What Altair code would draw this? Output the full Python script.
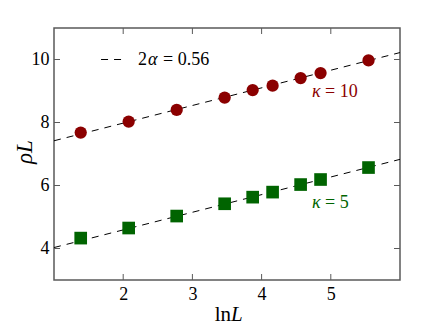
import altair as alt
import pandas as pd

# ---- data ----
lnL = [1.386, 2.079, 2.773, 3.466, 3.871, 4.159, 4.564, 4.852, 5.545]
rho_k10 = [7.68, 8.03, 8.40, 8.79, 9.03, 9.17, 9.41, 9.57, 9.97]
rho_k5 = [4.33, 4.65, 5.03, 5.42, 5.63, 5.79, 6.03, 6.19, 6.57]

fit_x = [1.0, 6.0]
fit_k10 = [7.42, 10.22]
fit_k5 = [4.03, 6.83]

x_ticks = [2, 3, 4, 5]
y_ticks = [4, 6, 8, 10]

legend_x = [1.68, 2.01]
legend_y = [10.0, 10.0]

W, H = 346, 252
FONT = "Liberation Serif, Times New Roman, DejaVu Serif, serif"
RED = "#8b0000"
GREEN = "#006400"
FRAME = "#5a5a5a"

xs = alt.Scale(domain=[1, 6], nice=False, zero=False)
ys = alt.Scale(domain=[3, 11], nice=False, zero=False)

xaxis = alt.Axis(values=x_ticks, title=None, ticks=False, domain=False, grid=False,
                 labelPadding=5, labelFont=FONT, labelFontSize=18, labelColor="black")
yaxis = alt.Axis(values=y_ticks, title=None, ticks=False, domain=False, grid=False,
                 labelPadding=5, labelFont=FONT, labelFontSize=18, labelColor="black")

X = lambda f="x": alt.X(f"{f}:Q", scale=xs, axis=xaxis)
Y = lambda f="y": alt.Y(f"{f}:Q", scale=ys, axis=yaxis)

df10 = pd.DataFrame({"x": lnL, "y": rho_k10})
df5 = pd.DataFrame({"x": lnL, "y": rho_k5})

fit10 = pd.DataFrame({"x": fit_x, "y": fit_k10})
fit5 = pd.DataFrame({"x": fit_x, "y": fit_k5})
legdf = pd.DataFrame({"x": legend_x, "y": legend_y})

dash = [7, 6]
line10 = alt.Chart(fit10).mark_line(color="black", strokeWidth=1, strokeDash=dash, clip=True).encode(x=X(), y=Y())
line5 = alt.Chart(fit5).mark_line(color="black", strokeWidth=1, strokeDash=dash, clip=True).encode(x=X(), y=Y())
legline = alt.Chart(legdf).mark_line(color="black", strokeWidth=1, strokeDash=dash).encode(x=X(), y=Y())

pts10 = alt.Chart(df10).mark_circle(size=150, color=RED, opacity=1).encode(x=X(), y=Y())
pts5 = alt.Chart(df5).mark_square(size=160, color=GREEN, opacity=1).encode(x=X(), y=Y())

# inward ticks on all four sides
xt = pd.DataFrame({"x": x_ticks})
yt = pd.DataFrame({"y": y_ticks})
tick_style = dict(color=FRAME, strokeWidth=1)
tb = alt.Chart(xt).mark_rule(**tick_style).encode(x=X(), y=alt.value(H), y2=alt.value(H - 6))
tt = alt.Chart(xt).mark_rule(**tick_style).encode(x=X(), y=alt.value(0), y2=alt.value(6))
tl = alt.Chart(yt).mark_rule(**tick_style).encode(y=Y(), x=alt.value(0), x2=alt.value(6))
tr = alt.Chart(yt).mark_rule(**tick_style).encode(y=Y(), x=alt.value(W), x2=alt.value(W - 6))


def label(text, x, y, color="black", italic=False, dx=0, size=18):
    d = pd.DataFrame({"x": [x], "y": [y], "t": [text]})
    return alt.Chart(d).mark_text(
        font=FONT, fontSize=size, color=color, align="left", baseline="middle",
        fontStyle="italic" if italic else "normal", dx=dx,
    ).encode(x=X(), y=Y(), text="t:N")


ann = [
    label("2", 2.214, 10.0),
    label("α", 2.214, 10.0, italic=True, dx=10),
    label("= 0.56", 2.214, 10.0, dx=25),
    label("κ", 4.73, 8.97, color=RED, italic=True),
    label("= 10", 4.73, 8.97, color=RED, dx=13),
    label("κ", 4.73, 5.45, color=GREEN, italic=True),
    label("= 5", 4.73, 5.45, color=GREEN, dx=13),
]

# axis titles
tdf = pd.DataFrame({"t": ["x"]})
ytitle = alt.Chart(tdf).mark_text(font=FONT, fontSize=23, fontStyle="italic", angle=270,
                                  align="center", baseline="middle", color="black").encode(
    x=alt.value(-29), y=alt.value(124), text=alt.value("ρL"))
xtitle_ln = alt.Chart(tdf).mark_text(font=FONT, fontSize=21, align="right", baseline="alphabetic",
                                     color="black").encode(
    x=alt.value(177), y=alt.value(293), text=alt.value("ln"))
xtitle_L = alt.Chart(tdf).mark_text(font=FONT, fontSize=21, fontStyle="italic", align="left",
                                    baseline="alphabetic", color="black").encode(
    x=alt.value(177), y=alt.value(293), text=alt.value("L"))

chart = alt.layer(
    line10, line5, legline, pts10, pts5, tb, tt, tl, tr, *ann, ytitle, xtitle_ln, xtitle_L
).properties(
    width=W, height=H,
    autosize=alt.AutoSizeParams(type="none"),
    padding={"left": 46, "top": 20, "right": 28, "bottom": 47},
).configure_view(
    stroke=FRAME, strokeWidth=1.5
)

chart.save("out.html", embed_options={"renderer": "svg", "actions": False})
